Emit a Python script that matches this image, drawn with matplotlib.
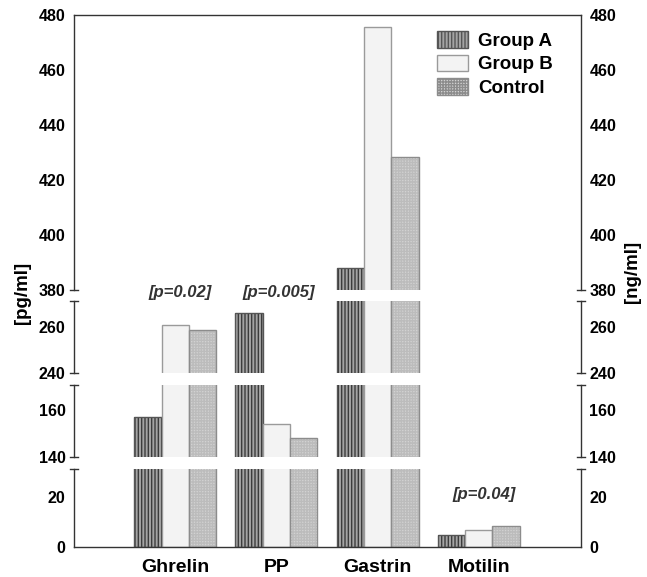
import matplotlib as mpl
import matplotlib.pyplot as plt
from matplotlib.patches import Patch
import numpy as np

mpl.rcParams['font.family'] = ['Liberation Sans', 'DejaVu Sans']
mpl.rcParams['font.weight'] = 'bold'
mpl.rcParams['hatch.linewidth'] = 1.0

categories = ['Ghrelin', 'PP', 'Gastrin', 'Motilin']
groups = ['Group A', 'Group B', 'Control']
group_a = [157.2, 266.3, 388.0, 4.7]
group_b = [260.7, 154.2, 475.6, 6.8]
control = [258.9, 148.2, 428.4, 8.5]
pvalues = ['[p=0.02]', '[p=0.005]', '', '[p=0.04]']

# broken y axis: (ymin, ymax, ticks, top px, bottom px)
segments = [
    (380, 480, [380, 400, 420, 440, 460, 480], 15, 290),
    (240, 271.3, [240, 260], 301, 373),
    (140, 170.9, [140, 160], 385, 457),
    (0, 31.2, [0, 20], 469, 547),
]

W, H = 647, 577
fig = plt.figure(figsize=(W / 100, H / 100), dpi=100)

styles = [
    dict(face='#a4a4a4', hatch='|||||', hcol='#3c3c3c', edge='#555555'),
    dict(face='#f3f3f3', hatch=None, hcol='#f3f3f3', edge='#9a9a9a'),
    dict(face='#d2d2d2', hatch='++++++', hcol='#bcbcbc', edge='#8c8c8c'),
]
series = [group_a, group_b, control]
x = np.arange(len(categories))
bw = 0.27
spine_col = '#333333'

x0, x1 = 74, 581
axes = []
for i, (lo, hi, ticks, ytop, ybot) in enumerate(segments):
    ax = fig.add_axes((x0 / W, 1 - ybot / H, (x1 - x0) / W, (ybot - ytop) / H))
    axes.append(ax)
    for k, (vals, st) in enumerate(zip(series, styles)):
        xs = x + (k - 1) * bw
        ax.bar(xs, vals, bw, color=st['face'], edgecolor=st['hcol'],
               hatch=st['hatch'], linewidth=0)
        ax.bar(xs, vals, bw, fill=False, edgecolor=st['edge'], linewidth=1.0)
    ax.set_xlim(-1.0, 4.01)
    ax.set_ylim(lo, hi)
    ax.set_yticks(ticks)
    ax.tick_params(axis='y', length=0, labelsize=11.5, labelright=True,
                   pad=6)
    ax.spines['top'].set_visible(i == 0)
    ax.spines['bottom'].set_visible(i == len(segments) - 1)
    for s in ax.spines.values():
        s.set_color(spine_col)
        s.set_linewidth(1.0)
    # caps at the break ends
    tr = ax.get_yaxis_transform()
    ends = []
    if i > 0:
        ends.append(hi)
    if i < len(segments) - 1:
        ends.append(lo)
    for yv in ends:
        for xv in (0, 1):
            ax.plot([xv - 0.008, xv + 0.008], [yv, yv], transform=tr,
                    color=spine_col, lw=1.0, clip_on=False)
    if i == len(segments) - 1:
        ax.set_xticks(x)
        ax.set_xticklabels(categories, fontsize=14)
        ax.tick_params(axis='x', length=0, pad=9)
    else:
        ax.set_xticks([])

# p-values
pv_pos = [(180, 293), (279, 293), (0, 0), (484, 494)]
for txt, (px, py) in zip(pvalues, pv_pos):
    if txt:
        fig.text(px / W, 1 - py / H, txt, ha='center', va='center',
                 fontsize=12, style='italic', weight='bold', color='#333333')

fig.text(22 / W, 1 - 293 / H, '[pg/ml]', rotation=90, ha='center',
         va='center', fontsize=13.5)
fig.text(632 / W, 1 - 272 / H, '[ng/ml]', rotation=90, ha='center',
         va='center', fontsize=13.5)

handles = [Patch(facecolor=st['face'], edgecolor=st['edge'], hatch=st['hatch'],
                 linewidth=1.0) for st in styles]
leg = axes[0].legend(handles, groups, loc='upper left',
                     bbox_to_anchor=(437 / W, 1 - 31 / H),
                     bbox_transform=fig.transFigure, frameon=False,
                     borderpad=0, borderaxespad=0, handlelength=1.65,
                     handleheight=1.0, handletextpad=0.55, labelspacing=0.25,
                     prop=dict(size=13.5, weight='bold'))

fig.savefig('out.png', dpi=100)
